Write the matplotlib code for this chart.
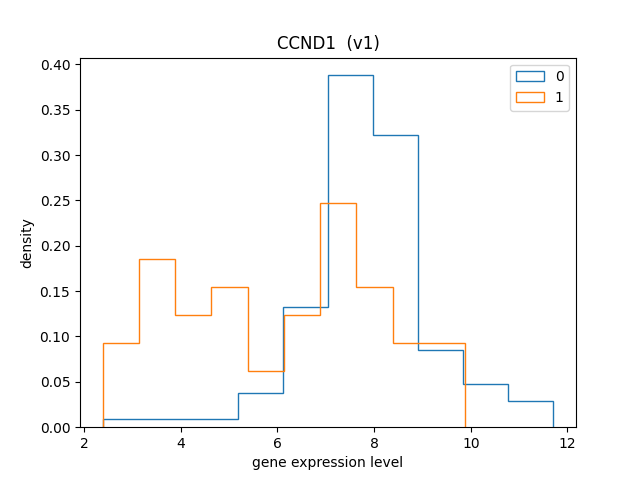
import numpy as np
import matplotlib
matplotlib.use("Agg")
import matplotlib.pyplot as plt

# bin edges and densities
edges_0 = np.linspace(2.39, 11.71, 11)
density_0 = [0.0092, 0.0092, 0.0092, 0.0375, 0.132, 0.388, 0.322, 0.085, 0.0477, 0.0287]

edges_1 = np.linspace(2.38, 9.88, 11)
density_1 = [0.0926, 0.185, 0.1235, 0.154, 0.062, 0.1235, 0.247, 0.154, 0.0926, 0.0926]

fig, ax = plt.subplots(figsize=(6.4, 4.8), dpi=100)
for edges, dens, label in [(edges_0, density_0, "0"), (edges_1, density_1, "1")]:
    ax.hist(edges[:-1], bins=edges, weights=dens, histtype="step", label=label)

ax.set_title("CCND1  (v1)")
ax.set_xlabel("gene expression level")
ax.set_ylabel("density")
ax.legend(loc="upper right")
fig.savefig("out.png")
